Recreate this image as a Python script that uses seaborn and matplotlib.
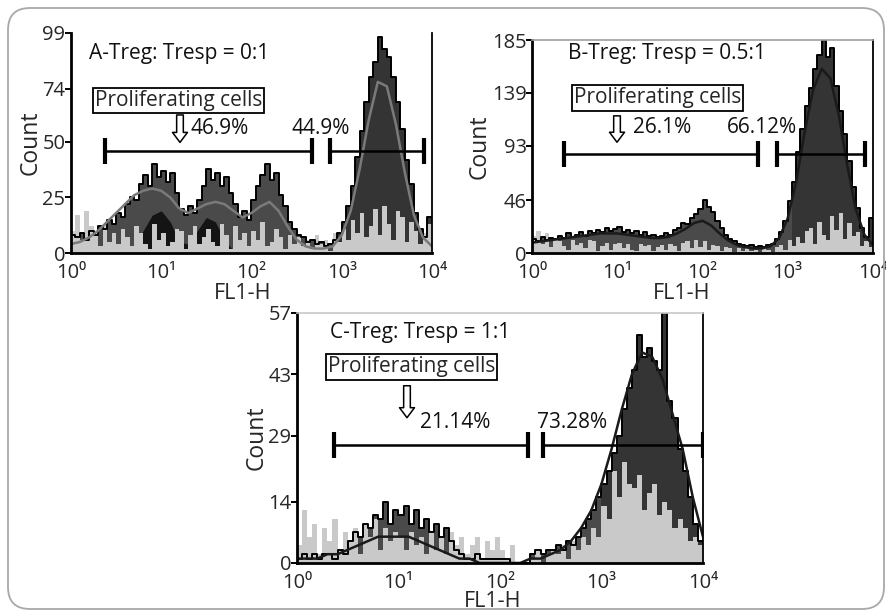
import numpy as np
import matplotlib
matplotlib.use('Agg')
import matplotlib.pyplot as plt
import seaborn as sns
from matplotlib.patches import FancyBboxPatch
from matplotlib.ticker import FixedLocator, LogLocator, NullFormatter

sns.set_theme(style='white')
plt.rcParams['font.family'] = ['Open Sans', 'DejaVu Sans']

# 80 log-spaced channels between 10^0 and 10^4 (0.05 decade each)
n_bins = 80
# smooth fits are read at every 0.1 decade
n_fit = 41

# ---------- panel A : Treg:Tresp = 0:1 ----------
a_black = [8, 7, 9, 6, 10, 8, 12, 11, 15, 13,
           18, 16, 22, 25, 24, 31, 35, 30, 40, 34,
           37, 32, 36, 27, 20, 17, 21, 18, 24, 30,
           38, 33, 36, 30, 34, 27, 22, 16, 19, 15,
           24, 30, 35, 40, 33, 36, 26, 21, 14, 11,
           8, 7, 5, 6, 4, 5, 3, 4, 6, 9,
           14, 21, 30, 43, 55, 68, 79, 86, 97, 92,
           88, 79, 68, 56, 42, 31, 18, 11, 7, 16]
a_gray = [10, 17, 6, 19, 12, 8, 3, 13, 5, 9,
          4, 11, 7, 3, 12, 9, 4, 2, 13, 6,
          9, 3, 5, 11, 10, 2, 8, 12, 4, 7,
          11, 5, 3, 13, 8, 2, 12, 6, 9, 3,
          10, 6, 14, 3, 5, 11, 7, 2, 8, 4,
          7, 3, 6, 2, 8, 4, 6, 1, 9, 5,
          11, 6, 15, 9, 18, 7, 12, 20, 8, 21,
          13, 6, 19, 16, 5, 14, 10, 4, 9, 13]
a_fit = [4, 5, 7, 10, 14, 18, 22, 26, 28, 29,
         28, 25, 20, 18, 20, 22, 23, 22, 19, 16,
         18, 21, 23, 19, 12, 6, 3, 2, 2, 3,
         8, 19, 38, 60, 77, 75, 58, 36, 17, 7, 3]
a_gen = [0, 0, 0, 0, 0, 0, 0, 3, 10, 17,
         19, 14, 5, 4, 10, 16, 14, 6, 1, 0,
         0, 0, 0, 0, 0, 0, 0, 0, 0, 0,
         0, 0, 0, 0, 0, 0, 0, 0, 0, 0, 0]
a_yticks = [0, 25, 50, 74, 99]
a_gates = [(2.4, 470), (740, 8100)]
a_gate_y = 46
a_pcts = ['46.9%', '44.9%']

# ---------- panel B : Treg:Tresp = 0.5:1 ----------
b_black = [12, 10, 14, 11, 13, 12, 15, 13, 17, 14,
           16, 18, 15, 19, 17, 20, 18, 22, 19, 21,
           23, 18, 20, 17, 19, 16, 18, 15, 16, 14,
           15, 17, 16, 20, 22, 26, 25, 30, 34, 38,
           46, 40, 36, 28, 22, 16, 12, 10, 8, 7,
           6, 7, 5, 6, 5, 7, 8, 12, 18, 28,
           45, 62, 88, 108, 128, 143, 160, 172, 185, 170,
           178, 145, 123, 103, 80, 57, 39, 22, 14, 30]
b_gray = [15, 19, 8, 17, 5, 13, 10, 6, 3, 11,
          7, 9, 4, 11, 10, 2, 6, 9, 3, 8,
          9, 4, 8, 3, 2, 8, 6, 7, 2, 5,
          7, 3, 8, 6, 2, 9, 10, 4, 11, 5,
          10, 3, 7, 6, 2, 5, 4, 1, 4, 2,
          4, 2, 3, 1, 4, 3, 1, 5, 7, 3,
          11, 6, 14, 9, 19, 22, 8, 27, 16, 11,
          32, 20, 35, 12, 26, 15, 18, 6, 10, 5]
b_fit = [9, 10, 11, 12, 13, 14, 15, 16, 17, 17,
         17, 16, 15, 14, 13, 13, 14, 17, 21, 26,
         28, 24, 17, 11, 7, 5, 4, 4, 6, 13,
         30, 62, 105, 142, 160, 152, 120, 76, 38, 16, 7]
b_yticks = [0, 46, 93, 139, 185]
b_gates = [(2.35, 450), (755, 8000)]
b_gate_y = 86
b_pcts = ['26.1%', '66.12%']

# ---------- panel C : Treg:Tresp = 1:1 ----------
c_black = [1, 2, 1, 2, 1, 2, 2, 1, 3, 2,
           5, 7, 6, 9, 8, 11, 10, 14, 9, 12,
           11, 13, 9, 12, 8, 10, 7, 9, 6, 8,
           5, 3, 2, 1, 1, 2, 1, 1, 1, 1,
           1, 1, 0, 0, 0, 0, 2, 3, 2, 3,
           3, 4, 3, 5, 4, 6, 8, 10, 12, 15,
           18, 21, 25, 29, 35, 40, 44, 52, 47, 49,
           46, 44, 62, 37, 33, 26, 21, 15, 9, 5]
c_gray = [4, 12, 6, 9, 2, 8, 5, 10, 3, 7,
          5, 8, 2, 9, 6, 10, 3, 8, 5, 7,
          6, 3, 7, 4, 6, 2, 7, 3, 6, 2,
          7, 4, 6, 2, 4, 6, 1, 5, 3, 6,
          3, 1, 4, 0, 0, 0, 1, 3, 0, 2,
          3, 2, 4, 1, 5, 3, 6, 4, 8, 6,
          13, 10, 21, 15, 23, 18, 17, 20, 12, 16,
          18, 11, 14, 12, 8, 10, 8, 5, 6, 4]
c_fit = [1, 1, 1, 2, 2, 3, 4, 5, 6, 6,
         6, 6, 5, 4, 3, 2, 1, 1, 0, 0,
         0, 0, 0, 1, 1, 2, 3, 5, 8, 12,
         18, 26, 35, 43, 48, 47, 42, 34, 26, 15, 6]
c_yticks = [0, 14, 29, 43, 57]
c_gates = [(2.3, 187), (263, 10000)]
c_gate_y = 27
c_pcts = ['21.14%', '73.28%']

edges = np.logspace(0, 4, n_bins + 1)
centers = np.logspace(0.025, 3.975, n_bins)
fit_x = np.logspace(0, 4, n_fit)
log_c = np.log10(centers)

TXT = 15


def draw_panel(ax, black, gray, fit, yticks, gates, gate_y, pcts, title,
               peak_from, pos, top_color, fit_color, xlab, gen=None):
    black = np.array(black)
    ax.set_xscale('log')
    # mottled area under the black trace
    sns.histplot(x=centers, weights=black, bins=n_bins, binrange=(0, 4),
                 log_scale=True, element='step', fill=True, color='#4a4a4a',
                 alpha=1, linewidth=0, ax=ax)
    # dark filled main peak
    peak = np.where(log_c >= peak_from, black, 0)
    ax.stairs(peak, edges, fill=True, color='#343434', lw=0)
    if gen is not None:
        ax.fill_between(fit_x, gen, color='#141414', lw=0)
    sns.histplot(x=centers, weights=gray, bins=n_bins, binrange=(0, 4),
                 log_scale=True, element='step', fill=True, color='#c9c9c9',
                 alpha=1, linewidth=0, ax=ax)
    sns.histplot(x=centers, weights=black, bins=n_bins, binrange=(0, 4),
                 log_scale=True, element='step', fill=False, color='black',
                 linewidth=1.4, ax=ax)
    sns.lineplot(x=fit_x, y=fit, color=fit_color, lw=1.8, ax=ax)

    ax.set_xlim(1, 10000)
    ax.set_ylim(0, yticks[-1])
    ax.yaxis.set_major_locator(FixedLocator(yticks))
    ax.set_yticklabels([str(t) for t in yticks])
    ax.xaxis.set_major_locator(FixedLocator([1, 10, 100, 1000, 10000]))
    ax.set_xticklabels(['10⁰', '10¹', '10²', '10³', '10⁴'])
    ax.xaxis.set_minor_locator(LogLocator(base=10, subs=np.arange(2, 10)))
    ax.xaxis.set_minor_formatter(NullFormatter())
    ax.tick_params(axis='x', which='major', direction='inout', length=7,
                   width=1.4, labelsize=14.5, pad=4, color='black')
    ax.tick_params(axis='x', which='minor', direction='in', length=3,
                   width=1, color='black', bottom=True)
    ax.tick_params(axis='y', which='major', direction='out', length=4,
                   width=1.4, labelsize=14.5, pad=0, color='black', left=True)
    ax.set_xlabel('FL1-H', fontsize=15.5)
    ax.xaxis.set_label_coords(*xlab)
    ax.set_ylabel('Count', fontsize=16.5, labelpad=0)

    for side in ['left', 'bottom']:
        ax.spines[side].set_color('black')
        ax.spines[side].set_linewidth(2)
    ax.spines['right'].set_color('black')
    ax.spines['right'].set_linewidth(1.3)
    if top_color is None:
        ax.spines['top'].set_visible(False)
    else:
        ax.spines['top'].set_color(top_color)
        ax.spines['top'].set_linewidth(1.2)

    # gates
    for x0, x1 in gates:
        ax.plot([x0, x1], [gate_y, gate_y], color='black', lw=1.8,
                marker='|', markersize=19, mew=3)

    tx, ty, bx, by, ax_, ay, p1, p2, py = pos
    ax.text(tx, ty, title, transform=ax.transAxes, fontsize=TXT,
            ha='left', va='center', color='#111111')
    ax.text(bx, by, 'Proliferating cells', transform=ax.transAxes,
            fontsize=TXT, ha='left', va='center',
            bbox=dict(boxstyle='square,pad=0.1', fc='white', ec='black',
                      lw=1.3))
    ax.annotate('', xy=(ax_, ay - 0.07), xytext=(ax_, ay + 0.08),
                xycoords='axes fraction',
                arrowprops=dict(arrowstyle='simple,head_width=0.9,'
                                'head_length=0.6,tail_width=0.4',
                                fc='white', ec='black', lw=1.1,
                                mutation_scale=12))
    ax.text(p1, py, pcts[0], transform=ax.transAxes, fontsize=TXT,
            ha='left', va='center', color='#111111')
    ax.text(p2, py, pcts[1], transform=ax.transAxes, fontsize=TXT,
            ha='left', va='center', color='#111111')


fig = plt.figure(figsize=(8.87, 6.12), dpi=100)
fig.patch.set_facecolor('white')
frame = FancyBboxPatch((0.08, 0.03), 8.76, 6.01,
                       boxstyle='round,pad=0,rounding_size=0.22',
                       transform=fig.dpi_scale_trans, fill=False,
                       ec='#a8a8a8', lw=1.3)
fig.add_artist(frame)

ax_a = fig.add_axes([0.080, 0.5866, 0.407, 0.3595])
ax_b = fig.add_axes([0.600, 0.5866, 0.384, 0.3480])
ax_c = fig.add_axes([0.3348, 0.0801, 0.4577, 0.4085])

draw_panel(ax_a, a_black, a_gray, a_fit, a_yticks, a_gates, a_gate_y, a_pcts,
           'A-Treg: Tresp = 0:1', 2.95,
           (0.05, 0.909, 0.066, 0.695, 0.302, 0.56, 0.33, 0.612, 0.568),
           None, '#7a7a7a', (0.476, -0.136), gen=a_gen)
draw_panel(ax_b, b_black, b_gray, b_fit, b_yticks, b_gates, b_gate_y, b_pcts,
           'B-Treg: Tresp = 0.5:1', 3.05,
           (0.106, 0.939, 0.122, 0.728, 0.249, 0.577, 0.296, 0.572, 0.587),
           '#a0a0a0', '#1a1a1a', (0.44, -0.14))
draw_panel(ax_c, c_black, c_gray, c_fit, c_yticks, c_gates, c_gate_y, c_pcts,
           'C-Treg: Tresp = 1:1', 3.0,
           (0.081, 0.92, 0.076, 0.784, 0.271, 0.64, 0.303, 0.591, 0.56),
           '#c8c8c8', '#1a1a1a', (0.483, -0.114))

fig.savefig('out.png', dpi=100)
